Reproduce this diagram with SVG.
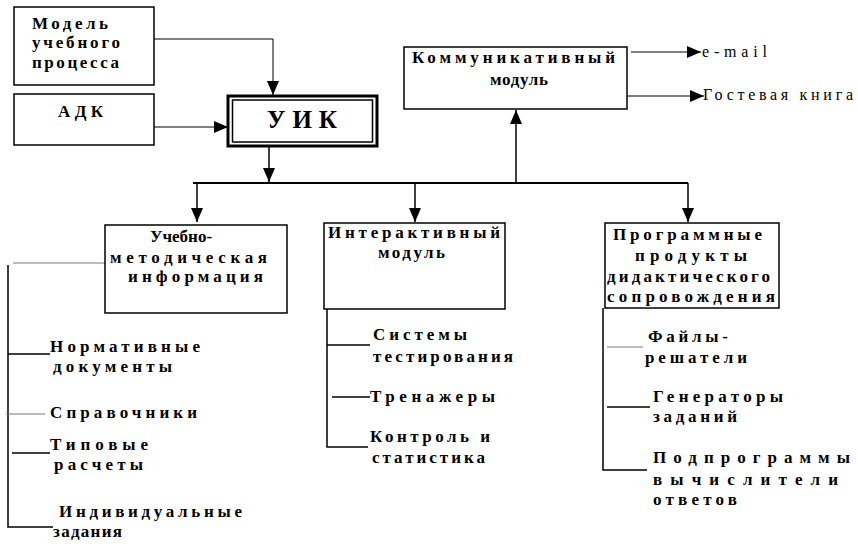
<svg xmlns="http://www.w3.org/2000/svg" width="858" height="544" viewBox="0 0 858 544">
<style>
.box{fill:#fff;stroke:#000;stroke-width:1.5}
.b{font-family:"Liberation Serif","Times New Roman",serif;font-weight:bold;font-size:17px;fill:#000}
.n{font-family:"Liberation Serif","Times New Roman",serif;font-size:16px;fill:#000}
.big{font-size:25px}
.c{fill:none;stroke:#000;stroke-width:1.5}
.t{fill:none;stroke:#000;stroke-width:1}
.g{fill:none;stroke:#777;stroke-width:1}
</style>
<defs>
<marker id="ah" markerUnits="userSpaceOnUse" markerWidth="14" markerHeight="14" viewBox="0 0 14 14" refX="14" refY="7" orient="auto">
<path d="M0,1 L14,7 L0,13 Z" fill="#000"/>
</marker>
</defs>
<rect width="858" height="544" fill="#fff"/>
<g id="connectors">
<path class="t" d="M154 39 H273 V95" marker-end="url(#ah)"/>
<path class="t" d="M154 127 H228" marker-end="url(#ah)"/>
<path class="c" d="M269 147 V182" marker-end="url(#ah)"/>
<path fill="none" stroke="#000" stroke-width="2" d="M193 183 H688"/>
<path class="c" d="M197 183 V222" marker-end="url(#ah)"/>
<path class="c" d="M415 183 V222" marker-end="url(#ah)"/>
<path class="c" d="M688 183 V222" marker-end="url(#ah)"/>
<path class="c" d="M516 183 V110" marker-end="url(#ah)"/>
<path class="t" d="M631 52 H701" marker-end="url(#ah)"/>
<path class="t" d="M627 96 H704" marker-end="url(#ah)"/>
<path class="g" d="M13 263 H110"/>
<path class="c" d="M8 265 V527 H53"/>
<path class="c" d="M8 354 H50"/>
<path class="g" d="M6 414 H45"/>
<path class="c" d="M12 453 H50"/>
<path class="c" d="M327 309 V447 H368"/>
<path class="c" d="M327 345 H370"/>
<path class="c" d="M332 397 H370"/>
<path class="c" d="M603 308 V470 H647"/>
<path class="g" d="M607 347 H643"/>
<path class="c" d="M607 407 H650"/>
</g>
<g id="model">
<rect class="box" x="14" y="7" width="140" height="78"/>
<text class="b" x="32" y="29" textLength="76" lengthAdjust="spacing">Модель</text>
<text class="b" x="32" y="48" textLength="88" lengthAdjust="spacing">учебного</text>
<text class="b" x="32" y="68" textLength="87" lengthAdjust="spacing">процесса</text>
</g>
<g id="adk">
<rect class="box" x="14" y="94" width="140" height="51"/>
<text class="b" x="58" y="117" textLength="45" lengthAdjust="spacing">АДК</text>
</g>
<g id="uik">
<rect x="228" y="96" width="149" height="50" fill="#fff" stroke="#000" stroke-width="3"/>
<rect x="232.5" y="100" width="140" height="42" fill="none" stroke="#000" stroke-width="1.5"/>
<text class="b big" x="267" y="128" textLength="70" lengthAdjust="spacing">УИК</text>
</g>
<g id="comm">
<rect class="box" x="404" y="47" width="223" height="62"/>
<text class="b" x="412" y="63" textLength="203" lengthAdjust="spacing">Коммуникативный</text>
<text class="b" x="490" y="85" textLength="58" lengthAdjust="spacing">модуль</text>
</g>
<g id="email">
<text class="n" x="702" y="57" textLength="65" lengthAdjust="spacing">e-mail</text>
</g>
<g id="guestbook">
<text class="n" x="703" y="100" textLength="150" lengthAdjust="spacing">Гостевая книга</text>
</g>
<g id="umi">
<rect class="box" x="105" y="225" width="182" height="88"/>
<text class="b" x="150" y="242">Учебно-</text>
<text class="b" x="110" y="263" textLength="157" lengthAdjust="spacing">методическая</text>
<text class="b" x="128" y="282" textLength="135" lengthAdjust="spacing">информация</text>
</g>
<g id="interactive">
<rect class="box" x="324" y="223" width="181" height="86"/>
<text class="b" x="328" y="238" textLength="172" lengthAdjust="spacing">Интерактивный</text>
<text class="b" x="378" y="258" textLength="67" lengthAdjust="spacing">модуль</text>
</g>
<g id="software">
<rect class="box" x="605" y="223" width="174" height="85"/>
<text class="b" x="613" y="240" textLength="149" lengthAdjust="spacing">Программные</text>
<text class="b" x="635" y="261" textLength="112" lengthAdjust="spacing">продукты</text>
<text class="b" x="607" y="282" textLength="163" lengthAdjust="spacing">дидактического</text>
<text class="b" x="607" y="302" textLength="168" lengthAdjust="spacing">сопровождения</text>
</g>
<g id="normdocs">
<text class="b" x="50" y="352" textLength="150" lengthAdjust="spacing">Нормативные</text>
<text class="b" x="53" y="372" textLength="119" lengthAdjust="spacing">документы</text>
</g>
<g id="spravochniki">
<text class="b" x="50" y="418" textLength="147" lengthAdjust="spacing">Справочники</text>
</g>
<g id="tipovye">
<text class="b" x="50" y="450" textLength="98" lengthAdjust="spacing">Типовые</text>
<text class="b" x="54" y="470" textLength="89" lengthAdjust="spacing">расчеты</text>
</g>
<g id="individual">
<text class="b" x="59" y="517" textLength="183" lengthAdjust="spacing">Индивидуальные</text>
<text class="b" x="53" y="537" textLength="69" lengthAdjust="spacing">задания</text>
</g>
<g id="testing">
<text class="b" x="373" y="340" textLength="94" lengthAdjust="spacing">Системы</text>
<text class="b" x="373" y="362" textLength="140" lengthAdjust="spacing">тестирования</text>
</g>
<g id="trainers">
<text class="b" x="370" y="402" textLength="125" lengthAdjust="spacing">Тренажеры</text>
</g>
<g id="control">
<text class="b" x="370" y="442" textLength="120" lengthAdjust="spacing">Контроль и</text>
<text class="b" x="372" y="463" textLength="113" lengthAdjust="spacing">статистика</text>
</g>
<g id="solvers">
<text class="b" x="648" y="342" textLength="80" lengthAdjust="spacing">Файлы-</text>
<text class="b" x="645" y="363" textLength="102" lengthAdjust="spacing">решатели</text>
</g>
<g id="generators">
<text class="b" x="653" y="402" textLength="130" lengthAdjust="spacing">Генераторы</text>
<text class="b" x="653" y="422" textLength="84" lengthAdjust="spacing">заданий</text>
</g>
<g id="subprograms">
<text class="b" x="653" y="463" textLength="197" lengthAdjust="spacing">Подпрограммы</text>
<text class="b" x="653" y="485" textLength="185" lengthAdjust="spacing">вычислители</text>
<text class="b" x="653" y="505" textLength="84" lengthAdjust="spacing">ответов</text>
</g>
</svg>
